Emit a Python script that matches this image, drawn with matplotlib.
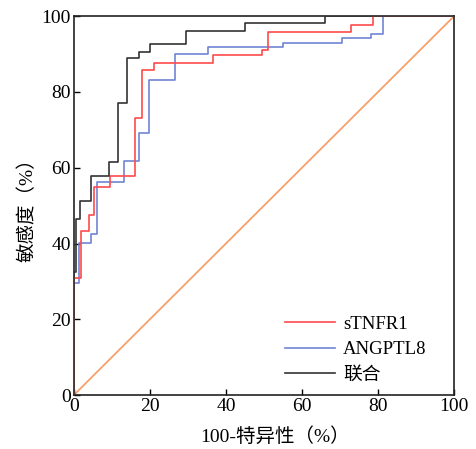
import matplotlib
matplotlib.use("Agg")
import matplotlib.pyplot as plt
from matplotlib.lines import Line2D

plt.rcParams['font.family'] = ['Liberation Serif', 'Noto Sans CJK SC']

# Combined (联合)
fpr_comb = [0, 0, 0.6, 1.6, 4.6, 9.3, 11.7, 14.1, 17.1, 20.0, 29.4, 45.0, 66.0, 100]
sens_comb = [0, 32.5, 46.4, 51.3, 57.8, 61.4, 77.0, 89.0, 90.6, 92.6, 96.1, 98.1, 100, 100]

# sTNFR1
fpr_stnfr1 = [0, 0, 1.9, 3.9, 5.4, 9.6, 16.1, 18.0, 21.0, 36.5, 49.5, 51.0, 72.8, 78.8, 100]
sens_stnfr1 = [0, 30.8, 43.4, 47.4, 55.0, 57.8, 73.0, 85.9, 87.7, 89.7, 91.0, 95.7, 97.8, 100, 100]

# ANGPTL8
fpr_angptl8 = [0, 0, 1.4, 4.4, 6.1, 13.2, 17.2, 19.8, 26.7, 35.3, 54.9, 70.4, 78.2, 81.2, 100]
sens_angptl8 = [0, 29.6, 40.1, 42.5, 56.3, 61.7, 69.3, 83.1, 89.9, 91.9, 92.9, 94.3, 95.2, 100, 100]

ref_line = [0, 100]

labels = ['sTNFR1', 'ANGPTL8', '联合']
colors = ['#ff4a4a', '#6f84d4', '#333333']
ticks = [0, 20, 40, 60, 80, 100]

fig = plt.figure(figsize=(4.76, 4.49), dpi=100)
ax = fig.add_axes([0.155, 0.120, 0.799, 0.844])

ax.plot(ref_line, ref_line, color='#f7a06c', lw=1.3, zorder=1)
ax.plot(fpr_stnfr1, sens_stnfr1, drawstyle='steps-post', color=colors[0], lw=1.2, zorder=3)
ax.plot(fpr_angptl8, sens_angptl8, drawstyle='steps-post', color=colors[1], lw=1.2, zorder=2)
ax.plot(fpr_comb, sens_comb, drawstyle='steps-post', color=colors[2], lw=1.2, zorder=4)

ax.set_xlim(0, 100)
ax.set_ylim(0, 100)
ax.set_xticks(ticks)
ax.set_yticks(ticks)
ax.tick_params(direction='in', length=4, width=1, labelsize=14, top=False, right=False, pad=2)
for s in ax.spines.values():
    s.set_linewidth(1.2)
    s.set_color('#222222')

ax.set_xlabel('100-特异性（%）', fontsize=14)
ax.set_ylabel('敏感度（%）', fontsize=14)
ax.xaxis.set_label_coords(0.53, -0.085)
ax.yaxis.set_label_coords(-0.097, 0.5)

handles = [Line2D([0], [0], color=c, lw=1.2) for c in colors]
ax.legend(handles, labels, loc='lower left', bbox_to_anchor=(0.555, 0.03),
          frameon=False, fontsize=13.5, handlelength=2.7, handletextpad=0.4,
          labelspacing=0.45, borderpad=0, borderaxespad=0)

fig.savefig('out.png', dpi=100)
